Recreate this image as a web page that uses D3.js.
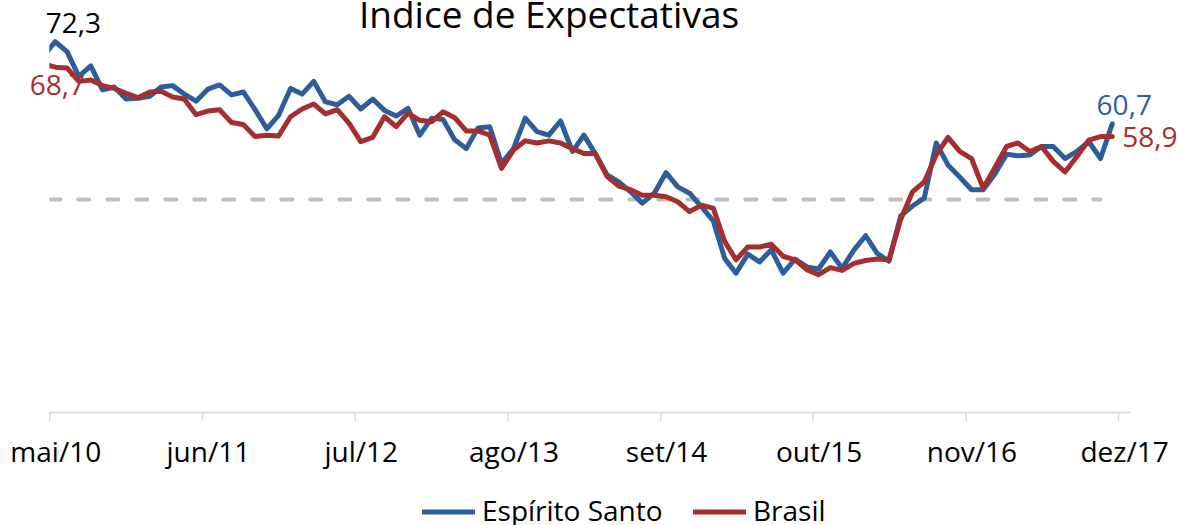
<!DOCTYPE html>
<html lang="pt">
  <head>
    <meta charset="utf-8" />
    <title>Índice de Expectativas</title>
    <script src="https://cdn.jsdelivr.net/npm/d3@7"></script>
    <style>
      body { margin: 0; background: #fff; }
      svg { display: block; }
    </style>
  </head>
  <body>
    <svg id="chart" width="1178" height="525" viewBox="0 0 1178 525"></svg>
    <script>
      // meses abreviados (pt-BR)
      const monthNames = ["jan", "fev", "mar", "abr", "mai", "jun", "jul", "ago", "set", "out", "nov", "dez"];

      // série mensal: abr/10 ... nov/17
      const months = d3.timeMonth.range(new Date(2010, 3, 1), new Date(2017, 11, 1));

      const espiritoSanto = [
        70.3,
        72.3, 70.9, 67.4, 68.9, 65.5, 65.9, 64.2, 64.3,
        64.6, 65.9, 66.1, 64.9, 63.9, 65.6, 66.2, 64.8, 65.2, 62.7, 60.0, 61.9,
        65.7, 64.9, 66.7, 63.8, 63.4, 64.6, 62.8, 64.2, 62.6, 61.8, 62.9, 59.1,
        61.5, 61.3, 58.5, 57.2, 60.1, 60.3, 55.1, 57.2, 61.5, 59.6, 59.1, 61.1,
        56.8, 59.1, 56.5, 53.5, 52.5, 51.1, 49.5, 50.9, 53.8, 51.8, 50.9, 49.0,
        47.0, 41.7, 39.6, 42.3, 41.2, 42.9, 39.6, 41.6, 40.5, 40.2, 42.6, 40.3,
        42.9, 44.9, 42.4, 41.3, 47.7, 49.1, 50.2, 58.0, 54.9, 53.2, 51.4, 51.4,
        53.7, 56.4, 56.2, 56.3, 57.5, 57.5, 55.8, 56.8, 58.2, 55.8, 60.7
      ];

      const brasil = [
        69.2,
        68.7, 68.6, 66.7, 66.9, 66.1, 65.7, 65.0, 64.4,
        65.2, 65.3, 64.5, 64.2, 62.0, 62.5, 62.7, 60.9, 60.6, 58.9, 59.1, 59.0,
        61.7, 62.8, 63.5, 62.1, 62.7, 60.8, 58.2, 58.8, 61.7, 60.3, 62.2, 61.2,
        61.0, 62.4, 61.6, 59.7, 59.7, 59.1, 54.4, 57.0, 58.3, 58.0, 58.3, 58.0,
        57.2, 56.5, 56.5, 53.3, 51.9, 51.4, 50.6, 50.6, 50.4, 49.7, 48.3, 49.2,
        48.8, 44.1, 41.5, 43.3, 43.3, 43.7, 42.0, 41.5, 40.1, 39.4, 40.4, 40.0,
        41.0, 41.4, 41.6, 41.5, 47.2, 51.1, 52.5, 56.3, 58.8, 56.8, 55.8, 51.6,
        54.6, 57.5, 58.0, 56.8, 57.5, 55.4, 53.9, 56.1, 58.4, 58.9, 58.9
      ];

      // rótulos do eixo: a cada 13 meses
      const tickDates = [
        new Date(2010, 4, 1), new Date(2011, 5, 1), new Date(2012, 6, 1), new Date(2013, 7, 1),
        new Date(2014, 8, 1), new Date(2015, 9, 1), new Date(2016, 10, 1), new Date(2017, 11, 1)
      ];

      const referenceValue = 50;
      const referenceEnd = new Date(2017, 9, 1); // out/17

      const seriesNames = ["Espírito Santo", "Brasil"];
      const seriesValues = [espiritoSanto, brasil];
      const color = d3.scaleOrdinal().domain(seriesNames).range(["#2d5e9b", "#a52f2e"]);

      const fontFamily = "'Open Sans', 'Noto Sans', sans-serif";
      const svg = d3.select("#chart").attr("font-family", fontFamily);

      const plot = { left: 49.3, right: 1130, bottom: 412, top: -12.8 };

      const xScale = d3.scaleTime()
        .domain([new Date(2010, 4, 1), new Date(2018, 0, 1)])
        .range([plot.left, plot.right]);

      const yScale = d3.scaleLinear()
        .domain([20, 80])
        .range([plot.bottom, plot.top]);

      // ponto no meio do mês
      const midMonth = (d) => (xScale(d) + xScale(d3.timeMonth.offset(d, 1))) / 2;
      const fmtMonth = (d) => monthNames[d.getMonth()] + "/" + String(d.getFullYear()).slice(2);

      svg.append("defs").append("clipPath").attr("id", "plot-clip")
        .append("rect")
        .attr("x", plot.left)
        .attr("y", -40)
        .attr("width", plot.right - plot.left)
        .attr("height", plot.bottom + 40);

      // título (cortado no topo)
      svg.append("text")
        .attr("x", 549)
        .attr("y", 28)
        .attr("text-anchor", "middle")
        .attr("font-size", "37px")
        .attr("fill", "#000")
        .text("Índice de Expectativas");

      // eixo x
      const xAxis = svg.append("g")
        .attr("transform", `translate(0, ${plot.bottom})`)
        .call(d3.axisBottom(xScale)
          .tickValues(tickDates)
          .tickFormat(fmtMonth)
          .tickSizeInner(9)
          .tickSizeOuter(0)
          .tickPadding(21));

      xAxis.select(".domain").attr("stroke", "#d9d9d9").attr("stroke-width", 1.5);
      xAxis.selectAll(".tick line").attr("stroke", "#d9d9d9").attr("stroke-width", 1.5);
      // rótulo centrado no mês, não na marca
      xAxis.selectAll(".tick text")
        .attr("x", (d) => midMonth(d) - xScale(d))
        .attr("font-family", fontFamily)
        .attr("font-size", "28px")
        .attr("fill", "#000");

      const lines = svg.append("g").attr("clip-path", "url(#plot-clip)");

      // linha de referência (50 pontos)
      lines.append("path")
        .attr("d", d3.line()([[xScale(new Date(2010, 4, 1)), yScale(referenceValue)], [midMonth(referenceEnd), yScale(referenceValue)]]))
        .attr("stroke", "#bfbfbf")
        .attr("stroke-width", 4)
        .attr("stroke-dasharray", "11,18")
        .attr("stroke-linecap", "round")
        .attr("fill", "none");

      const line = d3.line()
        .x((d) => midMonth(d.date))
        .y((d) => yScale(d.value));

      seriesNames.forEach((name, k) => {
        const rows = months.map((m, i) => ({ date: m, value: seriesValues[k][i] }));
        lines.append("path")
          .attr("class", "line-path")
          .attr("d", line(rows))
          .attr("stroke", color(name))
          .attr("stroke-width", 5)
          .attr("stroke-linejoin", "round")
          .attr("stroke-linecap", "round")
          .attr("fill", "none");
      });

      // rótulos de valor: primeiro e último mês
      const fmtValue = (v) => v.toFixed(1).replace(".", ",");
      const firstIdx = 1; // mai/10
      const lastIdx = months.length - 1; // nov/17

      const valueLabels = [
        { v: espiritoSanto[firstIdx], d: months[firstIdx], dx: 18, dy: -9, anchor: "middle", fill: "#000" },
        { v: brasil[firstIdx], d: months[firstIdx], dx: 2, dy: 28, anchor: "middle", fill: color("Brasil") },
        { v: espiritoSanto[lastIdx], d: months[lastIdx], dx: 12, dy: -9, anchor: "middle", fill: color("Espírito Santo") },
        { v: brasil[lastIdx], d: months[lastIdx], dx: 10, dy: 10, anchor: "start", fill: color("Brasil") }
      ];

      svg.selectAll(".value-label")
        .data(valueLabels)
        .enter()
        .append("text")
        .attr("class", "value-label")
        .attr("x", (d) => midMonth(d.d) + d.dx)
        .attr("y", (d) => yScale(d.v) + d.dy)
        .attr("text-anchor", (d) => d.anchor)
        .attr("font-size", "28px")
        .attr("fill", (d) => d.fill)
        .text((d) => fmtValue(d.v));

      // legenda
      const legendX = [422, 693];
      const legend = svg.append("g").attr("class", "legend");
      const items = legend.selectAll(".legend-item")
        .data(seriesNames)
        .enter()
        .append("g")
        .attr("class", "legend-item")
        .attr("transform", (d, i) => `translate(${legendX[i]}, 512)`);

      items.append("line")
        .attr("x1", 0)
        .attr("x2", 53)
        .attr("stroke", (d) => color(d))
        .attr("stroke-width", 5);

      items.append("text")
        .attr("x", 60)
        .attr("y", 9)
        .attr("font-size", "28px")
        .attr("fill", "#000")
        .text((d) => d);
    </script>
  </body>
</html>
